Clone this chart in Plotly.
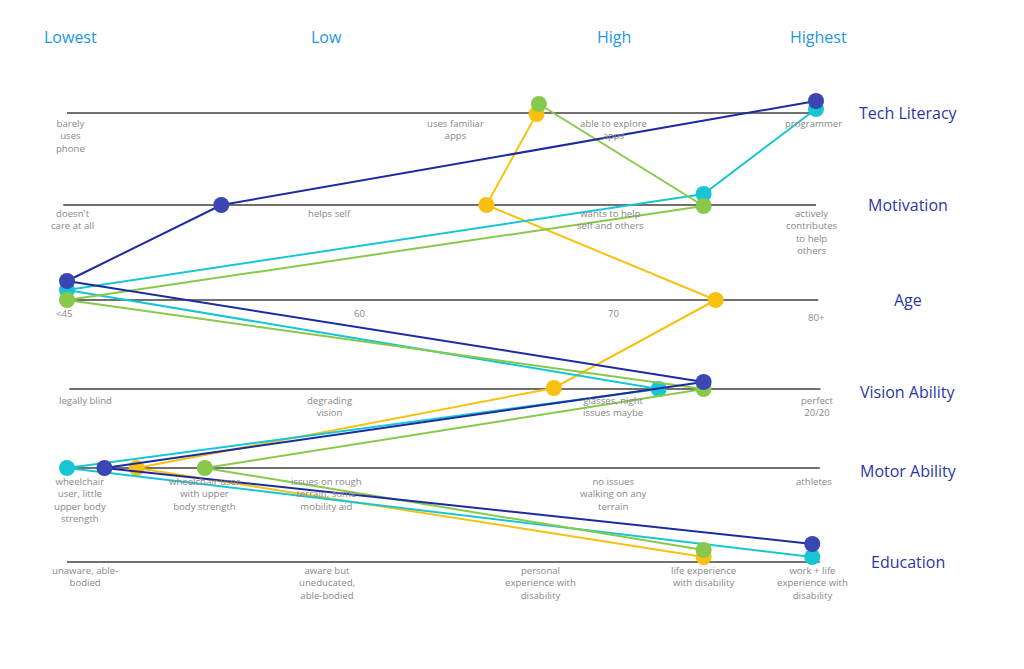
import plotly.graph_objects as go

# ---------------- data ----------------
rows = ["Tech Literacy", "Motivation", "Age", "Vision Ability", "Motor Ability", "Education"]
levels = ["Lowest", "Low", "High", "Highest"]

# persona scores per row on a 0-100 scale (0 = lowest, 100 = highest)
blue_scores = [100, 20.6, 0, 85, 5, 99.5]
cyan_scores = [100, 85, 0, 79, 0, 99.5]
green_scores = [63, 85, 0, 85, 18.4, 85]
yellow_scores = [62.7, 56, 86.6, 65, 9.3, 85]

row_labels = [
    [(0.4, "barely<br>uses<br>phone"), (51.9, "uses familiar<br>apps"),
     (73.0, "able to explore<br>apps"), (99.6, "programmer")],
    [(0.8, "doesn't<br>care at all"), (35.0, "helps self"),
     (72.5, "wants to help<br>self and others"), (99.5, "actively<br>contributes<br>to help<br>others")],
    [(-0.4, "<45"), (39.0, "60"), (72.9, "70"), (100.0, "80+")],
    [(2.5, "legally blind"), (35.1, "degrading<br>vision"),
     (73.0, "glasses, night<br>issues maybe"), (100.1, "perfect<br>20/20")],
    [(1.7, "wheelchair<br>user, little<br>upper body<br>strength"),
     (18.4, "wheelchair user<br>with upper<br>body strength"),
     (34.7, "issues on rough<br>terrain, some<br>mobility aid"),
     (72.9, "no issues<br>walking on any<br>terrain"), (99.7, "athletes")],
    [(2.4, "unaware, able-<br>bodied"), (34.7, "aware but<br>uneducated,<br>able-bodied"),
     (63.2, "personal<br>experience with<br>disability"),
     (85.0, "life experience<br>with disability"),
     (99.5, "work + life<br>experience with<br>disability")],
]
level_pos = [0.4, 34.7, 73.0, 100.3]

# ---------------- layout helpers ----------------
W, H = 1024, 669
OFF = 8  # page body margin
px_per_unit = 7.49
x0 = -(67 - OFF) / px_per_unit
x1 = x0 + W / px_per_unit

row_y = [113, 205, 300, 389, 468, 562]
label_top = [115, 205, 305, 392, 473, 562]
line_ext = [(0, 100), (-0.5, 100), (0, 100.3), (0.3, 100.6), (0, 100.5), (0, 100.5)]

# vertical dodge of stacked markers (pixels)
dodge = {
    "yellow": [1, 0, 0, -1, 0, -5],
    "cyan": [-4, -11, -10, 0, 0, -5],
    "green": [-9, 1, 0, 0, 0, -12],
    "blue": [-12, 0, -19, -7, 0, -18],
}

series = [
    ("yellow", yellow_scores, "#f8c112", "#f8c112"),
    ("cyan", cyan_scores, "#18c6d3", "#18c6d3"),
    ("green", green_scores, "#88c94b", "#88c94b"),
    ("blue", blue_scores, "#1c2c9f", "#3a46b2"),
]

fig = go.Figure()

shapes = []
for i, y in enumerate(row_y):
    a, b = line_ext[i]
    shapes.append(dict(type="line", xref="x", yref="y", x0=a, x1=b, y0=y, y1=y,
                       line=dict(color="#707070", width=2), layer="below"))

for name, vals, lc, mc in series:
    ys = [row_y[i] + dodge[name][i] for i in range(len(rows))]
    fig.add_trace(go.Scatter(
        x=vals, y=ys, mode="lines+markers", name=name,
        line=dict(color=lc, width=2),
        marker=dict(size=16, color=mc, line=dict(width=0)),
        hoverinfo="skip", showlegend=False,
    ))

annotations = []
for i, labs in enumerate(row_labels):
    for x, t in labs:
        yt = label_top[i]
        if t == "80+":
            yt += 4
        annotations.append(dict(x=x, y=yt, xref="x", yref="y", text=t, showarrow=False,
                                xanchor="center", yanchor="top", align="center",
                                font=dict(family="Open Sans", size=9.6, color="#888888")))
for i, r in enumerate(rows):
    annotations.append(dict(x=112.3, y=row_y[i] + (3 if r in ("Vision Ability", "Motor Ability") else 0),
                            xref="x", yref="y", text=r, showarrow=False,
                            xanchor="center", yanchor="middle",
                            font=dict(family="Open Sans", size=16, color="#2b37a8")))
for lv, x in zip(levels, level_pos):
    annotations.append(dict(x=x, y=37, xref="x", yref="y", text=lv, showarrow=False,
                            xanchor="center", yanchor="middle",
                            font=dict(family="Open Sans", size=16, color="#2196e6")))

fig.update_layout(
    width=W, height=H,
    margin=dict(l=0, r=0, t=0, b=0),
    paper_bgcolor="white", plot_bgcolor="white",
    xaxis=dict(range=[x0, x1], visible=False, fixedrange=True),
    yaxis=dict(range=[H + OFF, OFF], visible=False, fixedrange=True),
    shapes=shapes, annotations=annotations,
)

fig.write_html("out.html")
